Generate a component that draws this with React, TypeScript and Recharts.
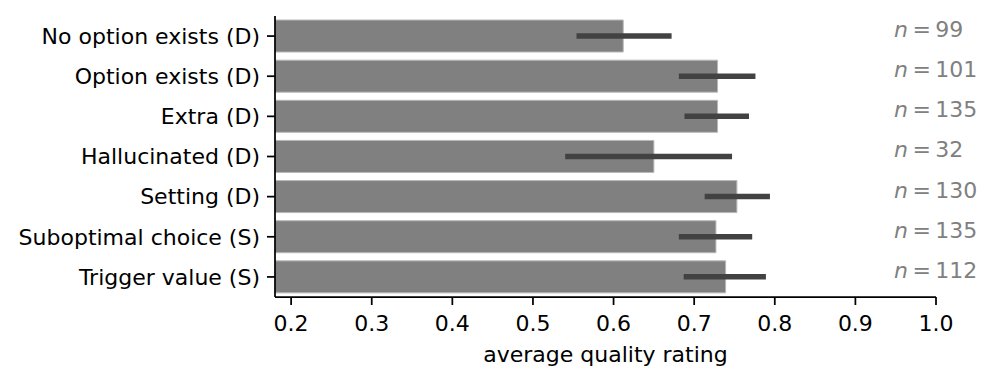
import { BarChart, Bar, XAxis, YAxis, ErrorBar, LabelList } from 'recharts'

// categories, top to bottom
const CATEGORIES = [
  'No option exists (D)',
  'Option exists (D)',
  'Extra (D)',
  'Hallucinated (D)',
  'Setting (D)',
  'Suboptimal choice (S)',
  'Trigger value (S)',
]

// mean rating and 95% CI bounds
const MEANS = [0.612, 0.729, 0.729, 0.65, 0.753, 0.727, 0.739]
const CI_LOW = [0.554, 0.681, 0.688, 0.54, 0.713, 0.681, 0.687]
const CI_HIGH = [0.672, 0.776, 0.768, 0.747, 0.794, 0.772, 0.789]
const COUNTS = [99, 101, 135, 32, 130, 135, 112]

const X_TICKS = [0.2, 0.3, 0.4, 0.5, 0.6, 0.7, 0.8, 0.9, 1.0]
const X_MIN = 0.18
const X_MAX = 1.0
const N_POS = 0.948

const FONT = '"DejaVu Sans", sans-serif'
const FONT_SIZE = 22

const data = CATEGORIES.map((name, i) => ({
  name,
  mean: MEANS[i],
  err: [MEANS[i] - CI_LOW[i], CI_HIGH[i] - MEANS[i]],
  n: COUNTS[i],
}))

function CountLabel(props: any) {
  const box = props.viewBox ?? props
  const { x, y, width, height } = box
  const row = data[props.index]
  if (!row || x == null) return null
  // recover the x scale from the bar itself
  const pxPerUnit = width / (row.mean - X_MIN)
  const tx = x + (N_POS - X_MIN) * pxPerUnit
  return (
    <text x={tx} y={y + height / 2 + 1} fill="#808080" fontSize={22} fontFamily={FONT}>
      <tspan fontStyle="italic">n</tspan>
      <tspan>{'\u2009=\u2009' + row.n}</tspan>
    </text>
  )
}

export default function App() {
  return (
    <div style={{ position: 'absolute', left: 0, top: 0, width: 996, height: 382, background: '#fff' }}>
      <BarChart
        width={996}
        height={382}
        data={data}
        layout="vertical"
        barCategoryGap="10%"
        margin={{ top: 16, right: 60, left: 0, bottom: 0 }}
        style={{ fontFamily: FONT }}
      >
        <XAxis
          type="number"
          domain={[X_MIN, X_MAX]}
          ticks={X_TICKS}
          allowDataOverflow
          tickFormatter={(v: number) => v.toFixed(1)}
          height={85}
          tickSize={8}
          tickMargin={10}
          axisLine={{ stroke: '#000', strokeWidth: 1.75 }}
          tickLine={{ stroke: '#000', strokeWidth: 1.75 }}
          tick={{ fill: '#000', fontSize: FONT_SIZE, fontFamily: FONT }}
          label={{
            value: 'average quality rating',
            position: 'insideBottom',
            offset: 20,
            fill: '#000',
            fontSize: FONT_SIZE,
            fontFamily: FONT,
          }}
        />
        <YAxis
          type="category"
          dataKey="name"
          width={275}
          tickSize={8}
          tickMargin={7}
          interval={0}
          axisLine={{ stroke: '#000', strokeWidth: 1.75 }}
          tickLine={{ stroke: '#000', strokeWidth: 1.75 }}
          tick={{ fill: '#000', fontSize: FONT_SIZE, fontFamily: FONT }}
        />
        <Bar dataKey="mean" fill="#808080" stroke="#b8b8b8" strokeWidth={1} isAnimationActive={false}>
          <ErrorBar dataKey="err" direction="x" width={0} stroke="#424242" strokeWidth={5.5} />
          <LabelList dataKey="n" content={CountLabel} />
        </Bar>
      </BarChart>
    </div>
  )
}
